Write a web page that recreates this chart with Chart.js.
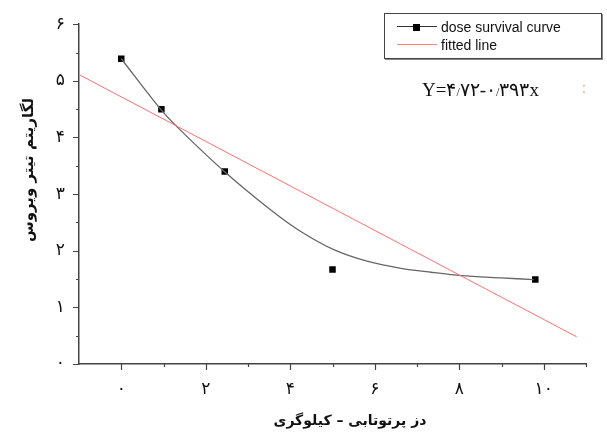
<!DOCTYPE html>
<html>
<head>
<meta charset="utf-8">
<script src="https://cdn.jsdelivr.net/npm/chart.js@4.4.1/dist/chart.umd.min.js"></script>
<style>
  body { margin: 0; background: #fff; }
  #wrap { position: relative; width: 607px; height: 437px; }
  #legend {
    position: absolute; left: 384px; top: 13px; width: 216px; height: 44px;
    border: 1px solid #444; box-shadow: 1px 1px 0 #888; background: #fff;
    font-family: "Liberation Sans", Arial, sans-serif; font-size: 14px; color: #111;
  }
  .row { position: absolute; left: 0; height: 18px; line-height: 18px; }
  .sym { position: absolute; left: 12px; top: 8px; width: 40px; height: 0; }
  .lbl { position: absolute; left: 56px; top: 0; white-space: nowrap; }
  .sq { position: absolute; left: 16px; top: -3px; width: 7px; height: 7px; background: #000; }
  #eq {
    position: absolute; left: 422px; top: 78px;
    font-family: "Liberation Serif", "DejaVu Serif", serif; font-size: 19px; color: #111;
    white-space: nowrap;
  }
  #eq .sep { font-size: 12px; }
  #dot { position: absolute; left: 582px; top: 80px; font-size: 14px; color: #c9a060;
    font-family: "Liberation Sans", sans-serif; }
</style>
</head>
<body>
<div id="wrap">
  <canvas id="chart" width="607" height="437"></canvas>
  <div id="legend">
    <div class="row" style="top:4px;width:216px">
      <div class="sym" style="border-top:1px solid #333"><div class="sq"></div></div>
      <div class="lbl">dose survival curve</div>
    </div>
    <div class="row" style="top:22px;width:216px">
      <div class="sym" style="border-top:1px solid #ff8080"></div>
      <div class="lbl">fitted line</div>
    </div>
  </div>
  <div id="eq">Y=۴<span class="sep">/</span>۷۲-۰<span class="sep">/</span>۳۹۳x</div>
  <div id="dot">:</div>
</div>
<script>
// measured survival points (dose in kGy, log virus titer)
const doseKGy = [0, 0.95, 2.45, 5.0, 9.8];
const logTiter = [5.39, 4.5, 3.4, 1.67, 1.49];

// smooth survival curve
const curveDose = [0, 0.93, 1.4, 2.44, 3.54, 4.25, 5.03, 5.84, 6.62, 7.33, 8.05, 9.0, 9.76];
const curveLog = [5.39, 4.5, 4.13, 3.4, 2.72, 2.34, 2.02, 1.81, 1.69, 1.62, 1.56, 1.52, 1.49];

// fitted line end points
const fitDose = [-1, 10.78];
const fitLog = [5.11, 0.48];

const xTickValues = [0, 2, 4, 6, 8, 10];
const yTickValues = [0, 1, 2, 3, 4, 5, 6];

const faDigits = '۰۱۲۳۴۵۶۷۸۹';
const toFa = v => String(v).replace(/\d/g, d => faDigits[d]);
const pts = (xs, ys) => xs.map((x, i) => ({ x: x, y: ys[i] }));

const tickFont = { family: '"DejaVu Sans", sans-serif', size: 17 };

const axisDecor = {
    id: 'axisDecor',
    afterDraw(chart) {
        const { ctx, scales: { x, y } } = chart;
        ctx.save();
        ctx.strokeStyle = '#444';
        ctx.lineWidth = 1.2;
        ctx.beginPath();
        for (let v = 0; v <= 11; v++) {
            const px = Math.round(x.getPixelForValue(v)) + 0.5;
            const len = v % 2 === 0 ? 6 : 3;
            ctx.moveTo(px, y.bottom);
            ctx.lineTo(px, y.bottom + len);
        }
        for (let v = 0; v <= 6; v += 0.5) {
            const py = Math.round(y.getPixelForValue(v)) + 0.5;
            const len = Number.isInteger(v) ? 6 : 3;
            ctx.moveTo(x.left, py);
            ctx.lineTo(x.left - len, py);
        }
        ctx.stroke();

        // axis titles
        ctx.fillStyle = '#111';
        ctx.font = 'bold 14px "DejaVu Sans", sans-serif';
        ctx.textAlign = 'center';
        ctx.textBaseline = 'middle';
        ctx.fillText('دز پرتوتابی – کیلوگری', 350, 421);
        ctx.translate(29, 170);
        ctx.rotate(-Math.PI / 2);
        ctx.font = 'bold 15px "DejaVu Sans", sans-serif';
        ctx.fillText('لگاریتم تیتر ویروس', 0, 0);
        ctx.restore();
    }
};

const ctx = document.getElementById('chart').getContext('2d');
new Chart(ctx, {
    type: 'scatter',
    data: {
        datasets: [
            {
                label: 'fitted line',
                data: pts(fitDose, fitLog),
                showLine: true,
                borderColor: '#ff7070',
                borderWidth: 1,
                pointRadius: 0
            },
            {
                label: 'curve',
                data: pts(curveDose, curveLog),
                showLine: true,
                borderColor: '#666',
                borderWidth: 1.3,
                tension: 0.3,
                pointRadius: 0
            },
            {
                label: 'dose survival curve',
                data: pts(doseKGy, logTiter),
                showLine: false,
                pointStyle: 'rect',
                pointRadius: 4.6,
                backgroundColor: '#000',
                borderColor: '#000',
                borderWidth: 0
            }
        ]
    },
    options: {
        responsive: false,
        animation: false,
        layout: { padding: { top: 20, right: 21, left: 0, bottom: 0 } },
        plugins: { legend: { display: false }, tooltip: { enabled: false } },
        scales: {
            x: {
                type: 'linear',
                min: -1,
                max: 11,
                afterFit: s => { s.height = 73; },
                grid: { display: false, drawTicks: false },
                border: { display: true, color: '#444', width: 1.5 },
                afterBuildTicks: s => { s.ticks = xTickValues.map(v => ({ value: v })); },
                ticks: {
                    padding: 15,
                    color: '#111',
                    font: tickFont,
                    maxRotation: 0,
                    callback: v => toFa(v)
                }
            },
            y: {
                type: 'linear',
                min: 0,
                max: 6,
                afterFit: s => { s.width = 79; },
                grid: { display: false, drawTicks: false },
                border: { display: true, color: '#444', width: 1.5 },
                afterBuildTicks: s => { s.ticks = yTickValues.map(v => ({ value: v })); },
                ticks: {
                    padding: 14,
                    color: '#111',
                    font: tickFont,
                    callback: v => toFa(v)
                }
            }
        }
    },
    plugins: [axisDecor]
});
</script>
</body>
</html>
